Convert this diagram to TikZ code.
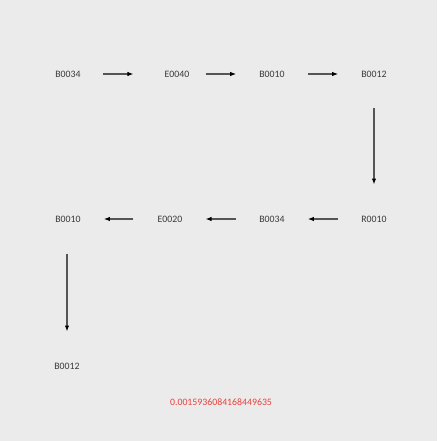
\documentclass[tikz,border=0pt]{standalone}
\usepackage{fontspec}
\setmainfont{Carlito}
\usepackage{xcolor}
\usetikzlibrary{arrows.meta,calc,positioning}
\definecolor{bggray}{HTML}{EBEBEB}
\definecolor{partgray}{HTML}{3A3A3A}
\definecolor{linkgray}{HTML}{555555}
\definecolor{seqred}{HTML}{E8403C}

\begin{document}
\begin{tikzpicture}[x=1pt,y=-1pt,>={Latex[length=6pt,width=4.4pt,color=black]},
  part/.style={inner sep=0pt,text=partgray,font=\fontsize{9.8}{11}\selectfont,
    text height=6.6pt,text depth=0pt},
  link/.style={->,draw=linkgray,line width=1.1pt}]
  \fill[bggray] (0,0) rectangle (437,441);
  \useasboundingbox (0,0) rectangle (437,441);
  % first row, left to right
  \foreach \x/\lab/\nm in {68/B0034/a1,177/E0040/a2,272/B0010/a3,374/B0012/a4}
    {\node[part] (\nm) at (\x,74) {\lab};}
  % second row, right to left
  \foreach \x/\lab/\nm in {68/B0010/b4,170/E0020/b3,272/B0034/b2,374/R0010/b1}
    {\node[part] (\nm) at (\x,219) {\lab};}
  \node[part] (c1) at (67,366) {B0012};
  \node[inner sep=0pt,text=seqred,font=\fontsize{9.8}{11}\selectfont] (val) at (221,402) {0.0015936084168449635};
  \draw[link,shorten <=22pt,shorten >=31pt] (a1) -- (a2);
  \draw[link,shorten <=16pt,shorten >=23pt] (a2) -- (a3);
  \draw[link,shorten <=23pt,shorten >=23pt] (a3) -- (a4);
  \draw[link,shorten <=31pt,shorten >=31pt] (a4) -- (b1);
  \draw[link,shorten <=23pt,shorten >=23pt] (b1) -- (b2);
  \draw[link,shorten <=23pt,shorten >=23pt] (b2) -- (b3);
  \draw[link,shorten <=24pt,shorten >=23pt] (b3) -- (b4);
  \draw[link,shorten <=31pt,shorten >=31pt] (b4.south -| c1) -- (c1);
\end{tikzpicture}
\end{document}
